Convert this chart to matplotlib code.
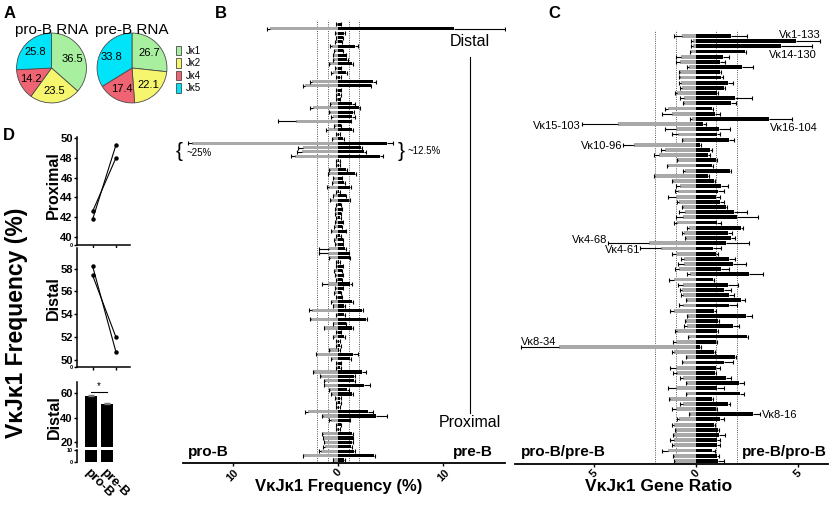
import numpy as np
import matplotlib
matplotlib.use('Agg')
import matplotlib.pyplot as plt
from matplotlib.patches import Patch

plt.rcParams['font.family'] = ['Liberation Sans', 'DejaVu Sans']

W, H = 832, 505

# ---- panel A: J kappa usage in RNA
j_labels = ['Jκ1', 'Jκ2', 'Jκ4', 'Jκ5']
j_colors = ['#a8f0a0', '#f5f56e', '#ee6472', '#00e4fa']
proB_rna = [36.5, 23.5, 14.2, 25.8]
preB_rna = [26.7, 22.1, 17.4, 33.8]

# ---- panel B: VkJk1 frequency per Vk gene (distal -> proximal)
b_pro = [0.13, 6.5, 0.2, 0.15, 0.2, 0.6, 0.3, 0.45, 0.4, 0.8,
         0.2, 0.5, 0.13, 2.5, 3.15, 0.13, 0.1, 0.1, 0.7, 2.4,
         0.75, 0.5, 4.0, 0.3, 1.0, 0.1, 0.5, 13.9, 3.35, 3.45,
         4.1, 0.1, 0.1, 0.8, 0.9, 0.4, 0.5, 0.9, 0.1, 0.45,
         0.7, 0.13, 0.2, 0.2, 0.1, 0.2, 0.3, 0.6, 0.13, 0.3,
         0.2, 0.9, 1.0, 0.8, 0.1, 0.13, 0.3, 0.2, 0.13, 1.0,
         0.2, 0.3, 0.13, 0.6, 0.45, 2.5, 0.1, 2.6, 0.45, 1.33,
         0.1, 0.4, 0.13, 0.13, 0.8, 2.0, 0.6, 0.13, 0.1, 2.3,
         1.65, 1.25, 1.33, 0.8, 0.6, 0.2, 0.13, 0.1, 2.9, 1.45,
         0.7, 0.1, 0.1, 1.45, 1.4, 1.33, 1.25, 1.65, 3.3, 0.45]
b_pro_err = [0.05, 0.3, 0.05, 0.05, 0.05, 0.15, 0.05, 0.05, 0.05, 0.1,
             0.05, 0.15, 0.05, 0.2, 0.2, 0.05, 0.05, 0.05, 0.1, 0.25,
             0.15, 0.2, 1.7, 0.1, 0.15, 0.05, 0.1, 0.4, 0.45, 0.45,
             0.4, 0.05, 0.05, 0.1, 0.1, 0.1, 0.1, 0.15, 0.05, 0.05,
             0.1, 0.05, 0.05, 0.05, 0.05, 0.05, 0.1, 0.1, 0.05, 0.05,
             0.05, 0.9, 0.8, 0.1, 0.05, 0.05, 0.1, 0.05, 0.05, 0.55,
             0.05, 0.05, 0.05, 0.1, 0.05, 0.3, 0.05, 0.1, 0.05, 0.05,
             0.05, 0.05, 0.05, 0.05, 0.1, 0.1, 0.1, 0.05, 0.05, 0.1,
             0.05, 0.1, 0.05, 0.1, 0.1, 0.05, 0.05, 0.05, 0.25, 0.1,
             0.12, 0.05, 0.05, 0.1, 0.05, 0.05, 0.15, 0.15, 0.05, 0.05]
b_pre = [0.25, 11.0, 0.57, 0.45, 0.35, 1.6, 0.45, 0.75, 0.9, 1.3,
         0.25, 0.8, 0.2, 3.3, 3.1, 0.25, 0.2, 0.15, 1.3, 2.0,
         1.45, 1.3, 1.2, 0.25, 1.3, 0.13, 0.5, 4.65, 2.15, 2.5,
         4.0, 0.1, 0.1, 0.8, 1.6, 0.35, 0.57, 1.15, 0.13, 0.75,
         1.0, 0.25, 0.35, 0.25, 0.2, 0.45, 0.35, 0.75, 0.2, 0.45,
         0.45, 0.67, 1.0, 1.1, 0.13, 0.45, 0.35, 0.45, 0.35, 1.15,
         0.45, 0.25, 0.35, 1.3, 0.57, 2.3, 0.57, 2.65, 0.75, 1.3,
         0.25, 0.57, 0.13, 0.2, 0.13, 1.45, 1.15, 0.25, 0.2, 2.25,
         1.5, 1.5, 2.5, 0.9, 1.3, 0.2, 0.2, 0.13, 2.9, 3.6,
         1.1, 0.25, 0.13, 1.3, 1.4, 1.3, 1.2, 1.5, 3.45, 0.57]
b_pre_err = [0.05, 4.9, 0.05, 0.05, 0.05, 0.35, 0.05, 0.05, 0.05, 0.1,
             0.05, 0.05, 0.05, 0.3, 0.05, 0.05, 0.05, 0.05, 0.3, 0.05,
             0.05, 0.3, 0.05, 0.05, 0.1, 0.05, 0.05, 0.55, 0.1, 0.15,
             0.25, 0.05, 0.05, 0.05, 0.1, 0.05, 0.05, 0.05, 0.05, 0.05,
             0.1, 0.05, 0.05, 0.05, 0.05, 0.05, 0.05, 0.05, 0.05, 0.05,
             0.05, 0.05, 0.05, 0.05, 0.05, 0.05, 0.05, 0.05, 0.05, 0.15,
             0.05, 0.05, 0.05, 0.1, 0.05, 0.1, 0.05, 0.15, 0.05, 0.1,
             0.05, 0.05, 0.05, 0.05, 0.05, 0.5, 0.05, 0.05, 0.05, 0.4,
             0.1, 0.1, 0.55, 0.1, 0.1, 0.05, 0.05, 0.05, 0.4, 1.1,
             0.05, 0.05, 0.05, 0.1, 0.05, 0.1, 0.1, 0.1, 0.1, 0.05]

# ---- panel C: gene ratios
c_pro = [0.7, 0.13, 0.13, 0.26, 0.75, 0.8, 0.33, 0.8, 0.8, 0.75,
         0.7, 0.95, 0.6, 0.6, 1.35, 1.2, 0.2, 3.8, 1.0, 0.9,
         0.62, 3.05, 1.5, 1.8, 0.9, 1.35, 0.55, 2.0, 1.15, 0.8,
         0.87, 1.0, 0.82, 0.65, 0.55, 0.62, 0.95, 0.33, 0.6, 0.5,
         2.3, 1.7, 1.0, 0.6, 0.6, 0.82, 0.3, 1.1, 0.65, 0.7,
         0.62, 0.45, 0.65, 1.1, 0.38, 0.5, 0.45, 0.95, 0.33, 1.0,
         6.7, 1.1, 0.43, 0.65, 1.0, 0.95, 0.62, 0.45, 1.0, 0.43,
         1.25, 0.62, 1.0, 0.3, 0.82, 1.1, 1.0, 1.08, 1.1, 1.08,
         1.36, 1.1, 1.03]
c_pro_err = [0.4, 0.13, 0.1, 0.05, 0.25, 0.2, 0.12, 0.05, 0.05, 0.07,
             0.08, 0.1, 0.2, 0.05, 0.15, 0.45, 0.1, 1.8, 0.5, 0.3,
             0.08, 0.55, 0.2, 0.25, 0.05, 0.05, 0.08, 0.05, 0.05, 0.2,
             0.16, 0.35, 0.13, 0.05, 0.27, 0.38, 0.15, 0.1, 0.1, 0.05,
             2.0, 1.05, 0.2, 0.15, 0.27, 0.2, 0.15, 0.2, 0.25, 0.1,
             0.13, 0.05, 0.17, 0.15, 0.05, 0.05, 0.15, 0.08, 0.05, 0.15,
             1.9, 0.1, 0.05, 0.05, 0.25, 0.2, 0.18, 0.05, 0.36, 0.05,
             0.05, 0.18, 0.2, 0.05, 0.13, 0.1, 0.05, 0.07, 0.15, 0.12,
             0.29, 0.05, 0.07]
c_pre = [1.7, 4.9, 4.15, 2.4, 1.3, 1.2, 2.25, 1.2, 1.25, 1.55,
         1.35, 1.05, 1.9, 1.7, 0.77, 0.93, 3.6, 0.36, 1.15, 1.05,
         1.6, 0.2, 0.7, 0.6, 1.0, 0.77, 1.65, 0.6, 0.9, 1.25,
         1.1, 1.0, 1.2, 1.48, 1.85, 2.0, 1.05, 2.2, 1.55, 1.7,
         1.48, 0.82, 1.0, 1.6, 1.8, 1.25, 2.6, 0.85, 1.55, 1.35,
         1.6, 2.2, 1.6, 0.9, 2.45, 1.1, 1.8, 1.05, 2.5, 1.0,
         0.2, 0.9, 1.9, 1.38, 0.98, 0.93, 1.48, 2.13, 1.05, 2.16,
         0.77, 1.55, 0.98, 2.8, 1.18, 0.9, 1.1, 1.15, 1.05, 1.05,
         0.77, 1.05, 1.1]
c_pre_err = [0.8, 1.2, 1.55, 0.05, 0.3, 0.2, 0.55, 0.05, 0.05, 0.25,
             0.05, 0.05, 0.85, 0.25, 0.05, 0.27, 1.1, 0.14, 0.5, 0.15,
             0.25, 0.05, 0.1, 0.1, 0.05, 0.05, 0.05, 0.05, 0.05, 0.3,
             0.25, 0.2, 0.15, 0.05, 0.65, 1.05, 0.2, 0.1, 0.2, 0.2,
             1.1, 0.43, 0.1, 0.3, 0.65, 0.35, 0.7, 0.05, 0.5, 0.35,
             0.27, 0.2, 0.4, 0.1, 0.3, 0.05, 0.3, 0.05, 0.07, 0.05,
             0.05, 0.05, 0.05, 0.42, 0.22, 0.05, 0.22, 0.2, 0.3, 0.2,
             0.05, 0.12, 0.05, 0.35, 0.17, 0.05, 0.05, 0.28, 0.15, 0.15,
             0.16, 0.1, 0.25]
c_gene_labels = {0: 'Vκ1-133', 2: 'Vκ14-130', 16: 'Vκ16-104', 17: 'Vκ15-103',
                 21: 'Vκ10-96', 40: 'Vκ4-68', 41: 'Vκ4-61', 60: 'Vκ8-34',
                 73: 'Vκ8-16'}

# ---- panel D
stages = ['pro-B', 'pre-B']
prox_exp1 = [41.8, 49.3]
prox_exp2 = [42.6, 48.0]
dist_exp1 = [58.2, 50.7]
dist_exp2 = [57.4, 52.0]
dist_mean = [57.8, 51.4]
dist_sem = [0.4, 0.7]

grey = '#a9a9a9'

fig = plt.figure(figsize=(W / 100, H / 100), dpi=100)


def px_axes(x0, y0, x1, y1):
    # pixel box (left, top, right, bottom) -> axes
    return fig.add_axes([x0 / W, 1 - y1 / H, (x1 - x0) / W, (y1 - y0) / H])


def one_sided(ax, rows, ends, errs, sign):
    ends = np.asarray(ends) * sign
    tips = ends + sign * np.asarray(errs)
    ax.hlines(rows, ends, tips, color='k', lw=0.8, zorder=3)
    ax.plot(tips, rows, '|', color='k', ms=2.6, mew=0.8, zorder=3)


# ---------------- A: pies
for vals, cx, title in [(proB_rna, 51.5, 'pro-B RNA'), (preB_rna, 132, 'pre-B RNA')]:
    ax = px_axes(cx - 36, 68 - 36, cx + 36, 68 + 36)
    ax.pie(vals, colors=j_colors, startangle=90, counterclock=False,
           autopct=lambda p: f'{p:.1f}', pctdistance=0.66,
           wedgeprops=dict(edgecolor='#4a4a4a', linewidth=0.6),
           textprops=dict(fontsize=8))
    ax.set_xlim(-1.03, 1.03)
    ax.set_ylim(-1.03, 1.03)
    fig.text(cx / W, 1 - 30 / H, title, fontsize=11, ha='center', va='center')

handles = [Patch(facecolor=c, edgecolor='#4a4a4a', lw=0.6) for c in j_colors]
fig.legend(handles, j_labels, loc='upper left', bbox_to_anchor=(176 / W, 1 - 46 / H),
           frameon=False, fontsize=7, handlelength=0.55, handleheight=1.1,
           labelspacing=0.25, handletextpad=0.45, borderpad=0, borderaxespad=0)

# ---------------- B: frequency
axB = px_axes(183, 20, 505, 463)
rows = np.arange(len(b_pro))
for v in (-2, -1, 1, 2):
    axB.axvline(v, color='#555555', lw=0.7, ls=(0, (1, 1.3)), zorder=0.5)
axB.barh(rows, -np.array(b_pro), height=0.72, color=grey, zorder=2)
axB.barh(rows, b_pre, height=0.72, color='k', zorder=2)
one_sided(axB, rows, b_pro, b_pro_err, -1)
one_sided(axB, rows, b_pre, b_pre_err, 1)
axB.set_xlim(-14.76, 15.9)
axB.set_ylim(99.7, -0.98)
axB.set_yticks([])
for s in ('top', 'left', 'right'):
    axB.spines[s].set_visible(False)
axB.spines['bottom'].set_linewidth(1.3)
axB.set_xticks([-10, 0, 10], ['10', '0', '10'], rotation=45, fontsize=8, fontweight='bold')
axB.tick_params(axis='x', length=2, width=1, pad=1)
axB.set_xlabel('VκJκ1 Frequency (%)', fontsize=12, fontweight='bold', labelpad=1)
axB.xaxis.set_label_coords(0.484, -0.035)
axB.text(12.57, 4.0, 'Distal', fontsize=11.5, ha='center', va='center')
axB.plot([12.6, 12.6], [7.4, 88.3], color='k', lw=0.8)
axB.text(12.57, 90.6, 'Proximal', fontsize=11.5, ha='center', va='center')
axB.text(-14.3, 97.2, 'pro-B', fontsize=11, fontweight='bold', ha='left', va='center')
axB.text(14.76, 97.2, 'pre-B', fontsize=11, fontweight='bold', ha='right', va='center')
axB.text(-15.1, 28.9, '{', fontsize=15, ha='center', va='center', clip_on=False)
axB.text(-14.4, 29.3, '~25%', fontsize=7, ha='left', va='center')
axB.text(6.0, 28.9, '}', fontsize=15, ha='center', va='center')
axB.text(6.6, 28.8, '~12.5%', fontsize=7, ha='left', va='center')

# ---------------- C: ratio
axC = px_axes(515, 30, 828, 464)
rows = np.arange(len(c_pro))
for v in (-2, -1, 1, 2):
    axC.axvline(v, color='#555555', lw=0.7, ls=(0, (1, 1.3)), zorder=0.5)
axC.barh(rows, -np.array(c_pro), height=0.75, color=grey, zorder=2)
axC.barh(rows, c_pre, height=0.75, color='k', zorder=2)
one_sided(axC, rows, c_pro, c_pro_err, -1)
one_sided(axC, rows, c_pre, c_pre_err, 1)
axC.set_xlim(-8.87, 6.47)
axC.set_ylim(82.6, -1.16)
axC.set_yticks([])
for s in ('top', 'left', 'right'):
    axC.spines[s].set_visible(False)
axC.spines['bottom'].set_linewidth(1.3)
axC.set_xticks([-5, 0, 5], ['5', '0', '5'], rotation=45, fontsize=8, fontweight='bold')
axC.tick_params(axis='x', length=2, width=1, pad=1)
axC.set_xlabel('VκJκ1 Gene Ratio', fontsize=12.5, fontweight='bold', labelpad=1)
axC.xaxis.set_label_coords(0.46, -0.035)
axC.text(-8.6, 80.2, 'pro-B/pre-B', fontsize=11, fontweight='bold', ha='left', va='center')
axC.text(6.4, 80.2, 'pre-B/pro-B', fontsize=11, fontweight='bold', ha='right', va='center')

gene_pos = {0: (6.1, -0.2, 'right'), 2: (5.93, 3.7, 'right'), 16: (5.98, 17.8, 'right'),
            17: (-5.65, 17.4, 'right'), 21: (-3.62, 21.2, 'right'), 40: (-4.35, 39.4, 'right'),
            41: (-2.75, 41.3, 'right'), 60: (-8.6, 59.1, 'left'), 73: (3.25, 73.2, 'left')}
for i, name in c_gene_labels.items():
    gx, gy, ha = gene_pos[i]
    axC.text(gx, gy, name, fontsize=8, ha=ha, va='center')

# ---------------- D: proximal / distal
fig.text(17 / W, 1 - 323 / H, 'VκJκ1 Frequency (%)', rotation=90, fontsize=16.5,
         fontweight='bold', ha='center', va='center')


def style_d(ax, ticks, labels):
    for s in ('top', 'right'):
        ax.spines[s].set_visible(False)
    for s in ('left', 'bottom'):
        ax.spines[s].set_linewidth(1.1)
    ax.set_yticks(ticks, labels)
    for lbl in ax.get_yticklabels():
        lbl.set_fontweight('bold')
        lbl.set_fontsize(8)
    ax.tick_params(length=2, width=1, pad=1)


axP = px_axes(77, 137, 130, 245)
for exp in (prox_exp1, prox_exp2):
    axP.plot([0, 1], exp, 'k-o', lw=0.8, ms=2.2)
axP.set_xlim(-0.67, 1.6)
axP.set_ylim(39.2, 50.1)
style_d(axP, [39.2, 40, 42, 44, 46, 48, 50], ['0', '40', '42', '44', '46', '48', '50'])
axP.get_yticklabels()[0].set_fontsize(4)
axP.set_xticks([0, 1], ['', ''])

axDi = px_axes(77, 248, 130, 367)
for exp in (dist_exp1, dist_exp2):
    axDi.plot([0, 1], exp, 'k-o', lw=0.8, ms=2.2)
axDi.set_xlim(-0.67, 1.6)
axDi.set_ylim(49.4, 59.8)
style_d(axDi, [49.4, 50, 52, 54, 56, 58], ['0', '50', '52', '54', '56', '58'])
axDi.get_yticklabels()[0].set_fontsize(4)
axDi.set_xticks([0, 1], ['', ''])

axBu = px_axes(77, 382, 115, 447)
axBl = px_axes(77, 450, 115, 462)
for ax in (axBu, axBl):
    ax.bar([0, 1], dist_mean, width=0.72, color='k')
    ax.set_xlim(-0.875, 1.5)
axBu.errorbar([0, 1], dist_mean, yerr=dist_sem, fmt='none', ecolor='#777777',
              elinewidth=0.8, capsize=2)
axBu.set_ylim(16, 69)
axBl.set_ylim(0, 10)
style_d(axBu, [20, 40, 60], ['20', '40', '60'])
axBu.spines['bottom'].set_visible(False)
axBu.set_xticks([])
style_d(axBl, [0, 10], ['0', '10'])
for lbl in axBl.get_yticklabels():
    lbl.set_fontsize(4)
axBl.spines['bottom'].set_visible(False)
axBl.set_xticks([0, 1], stages, rotation=-45, ha='left', rotation_mode='anchor',
                fontsize=9.5, fontweight='bold')
axBl.tick_params(axis='x', length=0, pad=3)
axBu.plot([0, 1], [61, 61], color='k', lw=0.8)
axBu.text(0.5, 61.5, '*', fontsize=7, ha='center', va='bottom')

fig.text(53 / W, 1 - 185 / H, 'Proximal', rotation=90, fontsize=11.5, fontweight='bold',
         ha='center', va='center')
fig.text(53 / W, 1 - 298 / H, 'Distal', rotation=90, fontsize=11.5, fontweight='bold',
         ha='center', va='center')
fig.text(54 / W, 1 - 417 / H, 'Distal', rotation=90, fontsize=11.5, fontweight='bold',
         ha='center', va='center')

# panel letters
for letter, x, y in [('A', 4, 13), ('B', 215, 13), ('C', 548, 13), ('D', 3, 135)]:
    fig.text(x / W, 1 - y / H, letter, fontsize=12, fontweight='bold', ha='left', va='center')

fig.savefig('out.png', dpi=100)
